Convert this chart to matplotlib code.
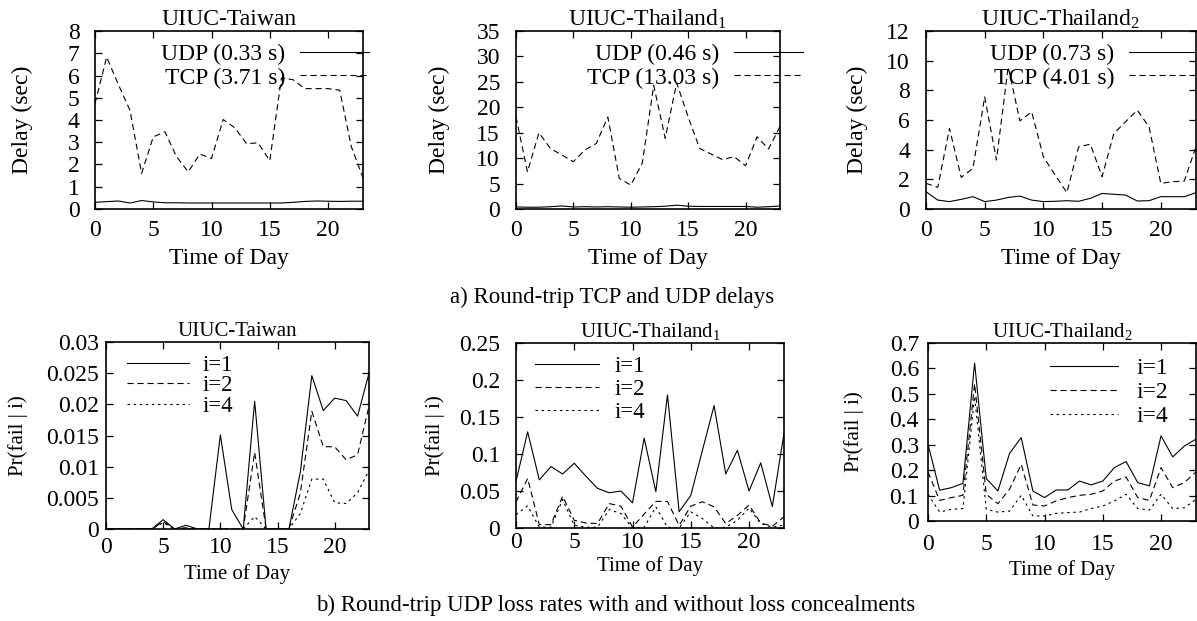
import matplotlib
matplotlib.use("Agg")
import matplotlib.pyplot as plt
from matplotlib import ticker

plt.rcParams['font.family'] = ['Liberation Serif', 'DejaVu Serif']
plt.rcParams['mathtext.fontset'] = 'custom'
plt.rcParams['mathtext.rm'] = 'Liberation Serif'
plt.rcParams['mathtext.it'] = 'Liberation Serif:italic'

hours = list(range(24))

# ---- a) Round-trip delays (sec) ----
taiwan_udp = [0.30, 0.33, 0.36, 0.27, 0.38, 0.32, 0.28, 0.28, 0.27, 0.27, 0.27, 0.27,
              0.27, 0.27, 0.27, 0.27, 0.27, 0.30, 0.34, 0.36, 0.35, 0.34, 0.35, 0.35]
taiwan_tcp = [4.74, 6.83, 5.6, 4.44, 1.6, 3.24, 3.47, 2.35, 1.67, 2.47, 2.27, 4.02,
              3.65, 2.94, 2.97, 2.17, 5.89, 5.81, 5.41, 5.41, 5.41, 5.34, 2.8, 1.4]
thai1_udp = [0.40, 0.35, 0.35, 0.45, 0.60, 0.40, 0.45, 0.40, 0.45, 0.40, 0.35, 0.40,
             0.45, 0.55, 0.75, 0.55, 0.50, 0.50, 0.50, 0.50, 0.50, 0.35, 0.45, 0.60]
thai1_tcp = [18.1, 7.3, 15.0, 11.9, 10.6, 9.3, 11.6, 12.9, 18.1, 6.0, 4.7, 9.0,
             24.3, 13.9, 24.8, 18.1, 11.9, 10.8, 9.7, 10.3, 8.5, 14.2, 11.8, 16.2]
thai2_udp = [1.17, 0.60, 0.50, 0.65, 0.83, 0.50, 0.60, 0.78, 0.87, 0.60, 0.50, 0.52,
             0.56, 0.52, 0.72, 1.05, 0.99, 0.94, 0.54, 0.56, 0.83, 0.83, 0.83, 1.10]
thai2_tcp = [1.73, 1.46, 5.43, 2.13, 2.74, 7.56, 3.30, 9.58, 5.94, 6.55, 3.52, 2.29,
             1.10, 4.19, 4.37, 2.18, 5.09, 5.88, 6.66, 5.54, 1.73, 1.84, 1.88, 4.20]

udp_labels = ["UDP (0.33 s)", "UDP (0.46 s)", "UDP (0.73 s)"]
tcp_labels = ["TCP (3.71 s)", "TCP (13.03 s)", "TCP (4.01 s)"]

# ---- b) Pr(fail | i) ----
taiwan_i1 = [0, 0, 0, 0, 0, 0.0015, 0, 0.0006, 0, 0, 0.0151, 0.0031,
             0, 0.0205, 0, 0, 0, 0.0092, 0.0246, 0.0190, 0.0210, 0.0206, 0.0181, 0.0250]
taiwan_i2 = [0, 0, 0, 0, 0, 0.0012, 0, 0.0002, 0, 0, 0, 0,
             0, 0.0123, 0, 0, 0, 0.0058, 0.0189, 0.0132, 0.0132, 0.0111, 0.0119, 0.0197]
taiwan_i4 = [0, 0, 0, 0, 0, 0.0010, 0, 0.0001, 0, 0, 0, 0,
             0, 0.0020, 0, 0, 0, 0.0025, 0.0080, 0.0080, 0.0042, 0.0041, 0.0058, 0.0094]
thai1_i1 = [0.063, 0.130, 0.065, 0.083, 0.073, 0.0875, 0.070, 0.0535, 0.0476, 0.050, 0.034, 0.1215,
            0.049, 0.180, 0.022, 0.044, 0.105, 0.1655, 0.073, 0.105, 0.050, 0.088, 0.029, 0.128]
thai1_i2 = [0.035, 0.067, 0.0045, 0.0045, 0.043, 0.0104, 0.0068, 0.006, 0.033, 0.0295, 0.0014, 0.019,
            0.036, 0.0358, 0.0036, 0.0295, 0.0354, 0.0286, 0.006, 0.017, 0.031, 0.0068, 0.0023, 0.015]
thai1_i4 = [0.018, 0.030, 0.001, 0.001, 0.0385, 0.0036, 0.001, 0.001, 0.025, 0.0195, 0, 0.001,
            0.0286, 0.001, 0, 0.0218, 0.0127, 0, 0.001, 0.0104, 0.027, 0.006, 0.001, 0.004]
thai2_i1 = [0.302, 0.121, 0.131, 0.148, 0.621, 0.167, 0.118, 0.266, 0.328, 0.118, 0.092, 0.122,
            0.122, 0.157, 0.142, 0.157, 0.210, 0.234, 0.151, 0.138, 0.335, 0.252, 0.295, 0.322]
thai2_i2 = [0.193, 0.081, 0.092, 0.101, 0.540, 0.105, 0.068, 0.125, 0.223, 0.063, 0.059, 0.079,
            0.092, 0.101, 0.105, 0.118, 0.157, 0.173, 0.092, 0.081, 0.210, 0.131, 0.151, 0.193]
thai2_i4 = [0.105, 0.035, 0.046, 0.049, 0.490, 0.046, 0.035, 0.039, 0.101, 0.020, 0.020, 0.030,
            0.033, 0.035, 0.049, 0.059, 0.079, 0.105, 0.049, 0.043, 0.105, 0.049, 0.052, 0.085]
loss_labels = ["i=1", "i=2", "i=4"]

titles = ["UIUC-Taiwan", "UIUC-Thailand$_1$", "UIUC-Thailand$_2$"]
top_yticks = [list(range(0, 9)), list(range(0, 36, 5)), list(range(0, 13, 2))]
bot_yticks = [[0, 0.005, 0.01, 0.015, 0.02, 0.025, 0.03],
              [0, 0.05, 0.1, 0.15, 0.2, 0.25],
              [0, 0.1, 0.2, 0.3, 0.4, 0.5, 0.6, 0.7]]
xticks = [0, 5, 10, 15, 20]

W, H = 1197, 621
fig = plt.figure(figsize=(W / 100, H / 100), dpi=100)

def add_ax(l, r, t, b):
    return fig.add_axes([l / W, 1 - b / H, (r - l) / W, (b - t) / H])

LW = 0.8
DASH = (0, (5.5, 3.5))
DOT = (0, (2.2, 3.3))
fmt = ticker.FuncFormatter(lambda v, p: '%g' % round(v, 6))

def style(ax, yticks, tfs, xpad, ypad):
    ax.set_xlim(0, 23)
    ax.set_ylim(yticks[0], yticks[-1])
    ax.set_xticks(xticks)
    ax.set_yticks(yticks)
    ax.yaxis.set_major_formatter(fmt)
    ax.tick_params(direction='in', top=True, right=True, length=5, width=0.9, labelsize=tfs)
    ax.tick_params(axis='x', pad=xpad)
    ax.tick_params(axis='y', pad=ypad)
    for s in ax.spines.values():
        s.set_linewidth(1.2)

# top row
top_boxes = [(95, 363, 31, 209), (516, 780, 31, 209), (926, 1196, 31, 209)]
top_udp = [taiwan_udp, thai1_udp, thai2_udp]
top_tcp = [taiwan_tcp, thai1_tcp, thai2_tcp]
top_ylab_x = [33, 450, 868]
top_leg_x = [1.022, 1.087, 1.007]
top_ypad = [11, 11.5, 11.5]
for k in range(3):
    l, r, t, b = top_boxes[k]
    ax = add_ax(l, r, t, b)
    h1, = ax.plot(hours, top_udp[k], color='black', lw=LW, label=udp_labels[k])
    h2, = ax.plot(hours, top_tcp[k], color='black', lw=LW, linestyle=DASH, label=tcp_labels[k])
    style(ax, top_yticks[k], 17, 8, top_ypad[k])
    ax.set_title(titles[k], fontsize=17, pad=4)
    ax.set_xlabel("Time of Day", fontsize=17)
    ax.set_ylabel("Delay (sec)", fontsize=17)
    ax.xaxis.set_label_coords(0.5, -39 / (b - t))
    ax.yaxis.set_label_coords((top_ylab_x[k] - l) / (r - l), 0.5)
    leg = ax.legend(handles=[h1, h2], loc='upper right', bbox_to_anchor=(top_leg_x[k], 0.927),
                    frameon=False, markerfirst=False, fontsize=17, handlelength=2.9,
                    handletextpad=0.64, labelspacing=0.07, borderpad=0, borderaxespad=0)
    leg.set_clip_on(False)

# bottom row
bot_boxes = [(106, 369, 342, 529), (516, 784, 343, 528), (928, 1196, 343, 521)]
bot_series = [[taiwan_i1, taiwan_i2, taiwan_i4],
              [thai1_i1, thai1_i2, thai1_i4],
              [thai2_i1, thai2_i2, thai2_i4]]
bot_ylab_x = [28, 445, 864]
bot_xlab_off = [35, 28, 39]
bot_xpad = [6, 3, 9]
bot_ypad = [5, 11.5, 6.5]
bot_leg = [(0.483, 0.930, 16.5, 2.7, 0.59, -0.03),
           (0.481, 0.931, 16.5, 2.8, 0.65, 0.095),
           (0.897, 0.916, 17, 2.9, 0.78, 0.10)]
styles = ['-', DASH, DOT]
for k in range(3):
    l, r, t, b = bot_boxes[k]
    ax = add_ax(l, r, t, b)
    hs = []
    for s, lab, ls in zip(bot_series[k], loss_labels, styles):
        h, = ax.plot(hours, s, color='black', lw=LW, linestyle=ls, label=lab)
        hs.append(h)
    style(ax, bot_yticks[k], 17, bot_xpad[k], bot_ypad[k])
    ax.set_title(titles[k], fontsize=15, pad=4)
    ax.set_xlabel("Time of Day", fontsize=15)
    ax.set_ylabel("Pr(fail | i)", fontsize=15)
    ax.xaxis.set_label_coords(0.5, -bot_xlab_off[k] / (b - t))
    ax.yaxis.set_label_coords((bot_ylab_x[k] - l) / (r - l), 0.5)
    lx, ly, fs, hl, htp, ls_ = bot_leg[k]
    ax.legend(handles=hs, loc='upper right', bbox_to_anchor=(lx, ly), frameon=False,
              fontsize=fs, handlelength=hl, handletextpad=htp, labelspacing=ls_,
              borderpad=0, borderaxespad=0)

fig.text(612 / W, 1 - 297 / H, "a) Round-trip TCP and UDP delays", ha='center', va='center', fontsize=16.5)
fig.text(616 / W, 1 - 605 / H, "b) Round-trip UDP loss rates with and without loss concealments",
         ha='center', va='center', fontsize=16.5)

fig.savefig("out.png", dpi=100)
